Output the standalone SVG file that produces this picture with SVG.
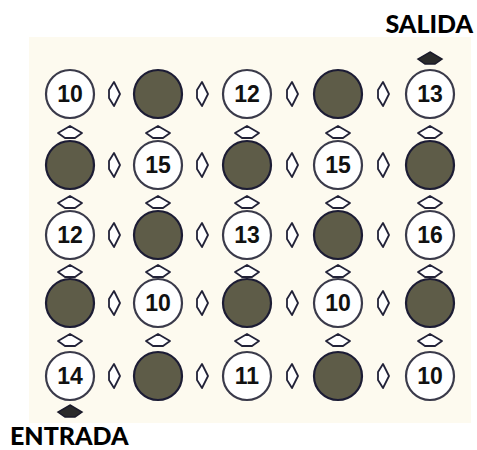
<svg xmlns="http://www.w3.org/2000/svg" width="477" height="450" viewBox="0 0 477 450">
<style>
.w{fill:#fff;stroke:#3a3a4a;stroke-width:2.2}
.d{fill:#5e5c48;stroke:#1c1c34;stroke-width:2.2}
.n{font-family:"Liberation Sans",Arial,sans-serif;font-weight:bold;font-size:23px;fill:#111;text-anchor:middle}
.ha{fill:#fff;stroke:#222238;stroke-width:1.8;stroke-linejoin:round}
.va{fill:#fff;stroke:#222238;stroke-width:1.8;stroke-linejoin:round}
.fa{fill:#2a2a2a;stroke:#1a1a2a;stroke-width:1.5}
.lbl{font-family:"Lato","Liberation Sans",sans-serif;font-weight:900;font-size:25px;fill:#000}
</style>
<defs>
<path id="h" d="M0,-12 L6,0 L0,12 L-5,4 L-5,-4 Z"/>
<path id="v" d="M0,-6 L12,1 L5,6 L-5,6 L-12,1 Z"/>
</defs>
<rect x="29" y="37" width="442" height="386" fill="#fdfaef"/>
<g id="connectors">
<use href="#h" class="ha" x="114" y="94"/><use href="#h" class="ha" x="202" y="94"/><use href="#h" class="ha" x="292" y="94"/><use href="#h" class="ha" x="383" y="94"/>
<use href="#h" class="ha" x="114" y="165"/><use href="#h" class="ha" x="202" y="165"/><use href="#h" class="ha" x="292" y="165"/><use href="#h" class="ha" x="383" y="165"/>
<use href="#h" class="ha" x="114" y="235"/><use href="#h" class="ha" x="202" y="235"/><use href="#h" class="ha" x="292" y="235"/><use href="#h" class="ha" x="383" y="235"/>
<use href="#h" class="ha" x="114" y="303"/><use href="#h" class="ha" x="202" y="303"/><use href="#h" class="ha" x="292" y="303"/><use href="#h" class="ha" x="383" y="303"/>
<use href="#h" class="ha" x="114" y="376"/><use href="#h" class="ha" x="202" y="376"/><use href="#h" class="ha" x="292" y="376"/><use href="#h" class="ha" x="383" y="376"/>
<use href="#v" class="va" x="70" y="132"/><use href="#v" class="va" x="158" y="132"/><use href="#v" class="va" x="247" y="132"/><use href="#v" class="va" x="338" y="132"/><use href="#v" class="va" x="430" y="132"/>
<use href="#v" class="va" x="70" y="202"/><use href="#v" class="va" x="158" y="202"/><use href="#v" class="va" x="247" y="202"/><use href="#v" class="va" x="338" y="202"/><use href="#v" class="va" x="430" y="202"/>
<use href="#v" class="va" x="70" y="271"/><use href="#v" class="va" x="158" y="271"/><use href="#v" class="va" x="247" y="271"/><use href="#v" class="va" x="338" y="271"/><use href="#v" class="va" x="430" y="271"/>
<use href="#v" class="va" x="70" y="340"/><use href="#v" class="va" x="158" y="340"/><use href="#v" class="va" x="247" y="340"/><use href="#v" class="va" x="338" y="340"/><use href="#v" class="va" x="430" y="340"/>
<use href="#v" class="fa" x="430" y="58"/>
<use href="#v" class="fa" x="70" y="411"/>
</g>
<g id="r1c1"><circle class="w" cx="70" cy="94" r="24"/><text class="n" x="70" y="102">10</text></g>
<g id="r1c2"><circle class="d" cx="158" cy="94" r="24"/></g>
<g id="r1c3"><circle class="w" cx="247" cy="94" r="24"/><text class="n" x="247" y="102">12</text></g>
<g id="r1c4"><circle class="d" cx="338" cy="94" r="24"/></g>
<g id="r1c5"><circle class="w" cx="430" cy="94" r="24"/><text class="n" x="430" y="102">13</text></g>
<g id="r2c1"><circle class="d" cx="70" cy="165" r="24"/></g>
<g id="r2c2"><circle class="w" cx="158" cy="165" r="24"/><text class="n" x="158" y="173">15</text></g>
<g id="r2c3"><circle class="d" cx="247" cy="165" r="24"/></g>
<g id="r2c4"><circle class="w" cx="338" cy="165" r="24"/><text class="n" x="338" y="173">15</text></g>
<g id="r2c5"><circle class="d" cx="430" cy="165" r="24"/></g>
<g id="r3c1"><circle class="w" cx="70" cy="235" r="24"/><text class="n" x="70" y="243">12</text></g>
<g id="r3c2"><circle class="d" cx="158" cy="235" r="24"/></g>
<g id="r3c3"><circle class="w" cx="247" cy="235" r="24"/><text class="n" x="247" y="243">13</text></g>
<g id="r3c4"><circle class="d" cx="338" cy="235" r="24"/></g>
<g id="r3c5"><circle class="w" cx="430" cy="235" r="24"/><text class="n" x="430" y="243">16</text></g>
<g id="r4c1"><circle class="d" cx="70" cy="303" r="24"/></g>
<g id="r4c2"><circle class="w" cx="158" cy="303" r="24"/><text class="n" x="158" y="311">10</text></g>
<g id="r4c3"><circle class="d" cx="247" cy="303" r="24"/></g>
<g id="r4c4"><circle class="w" cx="338" cy="303" r="24"/><text class="n" x="338" y="311">10</text></g>
<g id="r4c5"><circle class="d" cx="430" cy="303" r="24"/></g>
<g id="r5c1"><circle class="w" cx="70" cy="376" r="24"/><text class="n" x="70" y="384">14</text></g>
<g id="r5c2"><circle class="d" cx="158" cy="376" r="24"/></g>
<g id="r5c3"><circle class="w" cx="247" cy="376" r="24"/><text class="n" x="247" y="384">11</text></g>
<g id="r5c4"><circle class="d" cx="338" cy="376" r="24"/></g>
<g id="r5c5"><circle class="w" cx="430" cy="376" r="24"/><text class="n" x="430" y="384">10</text></g>
<g id="salida"><text class="lbl" x="473" y="33" text-anchor="end">SALIDA</text></g>
<g id="entrada"><text class="lbl" x="10" y="445">ENTRADA</text></g>
</svg>
